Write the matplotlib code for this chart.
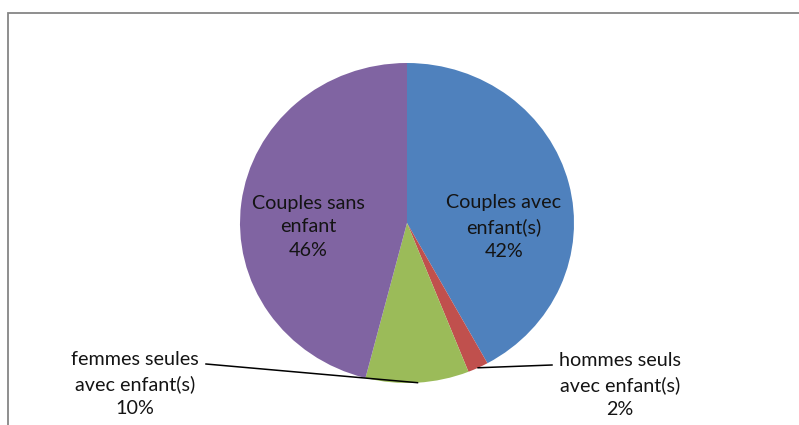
import matplotlib
matplotlib.use("Agg")
import matplotlib.pyplot as plt
from matplotlib.patches import Rectangle
import numpy as np

categories = ["Couples avec\nenfant(s)", "hommes seuls\navec enfant(s)",
              "femmes seules\navec enfant(s)", "Couples sans\nenfant"]
values = [42, 2, 10, 46]
colors = ["#4F81BD", "#C0504D", "#9BBB59", "#8064A2"]

W, H = 799, 425
fig = plt.figure(figsize=(W / 100, H / 100), dpi=100)
ax = fig.add_axes([0, 0, 1, 1])

wedges, _ = ax.pie(values, colors=colors, startangle=90, counterclock=False,
                   radius=1, center=(0, 0), frame=False)
ax.set_aspect("auto")
# pie centre at pixel (407, 223 from top); radii 167 px horizontally, 160 px vertically
rx, ry = 167.0, 160.0
cx, cy = 407.0, H - 223.0
ax.set_xlim(-cx / rx, (W - cx) / rx)
ax.set_ylim(-cy / ry, (H - cy) / ry)
ax.axis("off")

font = dict(family=["Lato", "DejaVu Sans"], fontsize=14.2, color="#141414",
            ha="center", va="center", linespacing=1.5)

def px(x, y_top):
    return (x - cx) / rx, ((H - y_top) - cy) / ry

# inside labels
ax.text(*px(504, 227), f"{categories[0]}\n{values[0]}%", **font)
ax.text(*px(308, 227), f"{categories[3]}\n{values[3]}%", **font)

def mid_point(i):
    cum = np.cumsum([0] + values)
    frac = (cum[i] + cum[i + 1]) / 2 / sum(values)
    ang = np.deg2rad(90 - 360 * frac)
    return np.cos(ang), np.sin(ang)

# hommes seuls label (outside right)
mx, my = mid_point(1)
lx, ly = px(552, 365)
ax.plot([mx, lx], [my, ly], color="black", lw=1.1)
ax.text(*px(620, 385), f"{categories[1]}\n{values[1]}%", **font)

# femmes seules label (outside left)
mx, my = mid_point(2)
lx, ly = px(206, 364)
ax.plot([mx, lx], [my, ly], color="black", lw=1.1)
ax.text(*px(135, 384), f"{categories[2]}\n{values[2]}%", **font)

# chart frame (right and bottom edges fall outside the image)
fig.patches.append(Rectangle((8, -20), 900, H - 13 + 20, transform=None,
                             fill=False, edgecolor="#868686", lw=1.3))

fig.savefig("out.png", dpi=100)
